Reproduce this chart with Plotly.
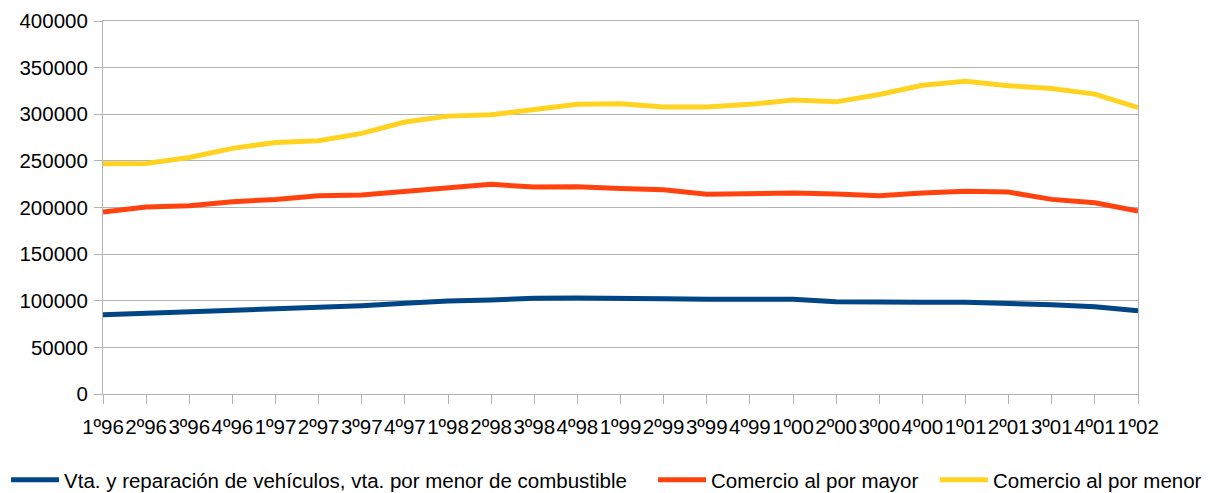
import plotly.graph_objects as go

quarters = ["1º96", "2º96", "3º96", "4º96", "1º97", "2º97", "3º97", "4º97",
            "1º98", "2º98", "3º98", "4º98", "1º99", "2º99", "3º99", "4º99",
            "1º00", "2º00", "3º00", "4º00", "1º01", "2º01", "3º01", "4º01", "1º02"]

vehiculos = [85000, 86500, 88200, 89700, 91500, 92900, 94700, 97200, 99700, 100800,
             102600, 102900, 102900, 102200, 101500, 101500, 101500, 99000, 98300, 98300,
             98300, 97200, 95700, 93600, 89300]

mayor = [195100, 200500, 201900, 206200, 208700, 212600, 213300, 217300, 220800, 224800,
         221900, 222300, 220500, 219000, 214100, 214800, 215500, 214400, 212600, 215500,
         217300, 216500, 208700, 205100, 196200]

menor = [247000, 247300, 253700, 263400, 269800, 271500, 279500, 291600, 298000, 299400,
         305200, 310600, 311200, 307700, 307700, 310600, 315200, 313300, 321200, 331000,
         335500, 330600, 327700, 321600, 307000]

series_names = ["Vta. y reparación de vehículos, vta. por menor de combustible",
                "Comercio al por mayor", "Comercio al por menor"]
colors = ["#004586", "#ff420e", "#ffd320"]

y_ticks = [0, 50000, 100000, 150000, 200000, 250000, 300000, 350000, 400000]

legend_ids = ["legend", "legend2", "legend3"]
legend_x = [-0.0937, 0.5314, 0.8038]

fig = go.Figure()
for name, vals, col, lid in zip(series_names, [vehiculos, mayor, menor], colors, legend_ids):
    fig.add_trace(go.Scatter(x=list(range(len(quarters))), y=vals, mode="lines", name=name,
                             line=dict(color=col, width=5), legend=lid))

legend_common = dict(orientation="h", xanchor="left", y=-0.2306, yanchor="middle",
                     font=dict(size=20.5), itemwidth=48, bgcolor="rgba(0,0,0,0)")

fig.update_layout(
    width=1202, height=485,
    margin=dict(l=95, r=72, t=13, b=99, autoexpand=False),
    paper_bgcolor="white", plot_bgcolor="white",
    font=dict(family="Liberation Sans, Arial, sans-serif", size=20.5, color="#000000"),
    showlegend=True,
    legend=dict(x=legend_x[0], **legend_common),
    legend2=dict(x=legend_x[1], **legend_common),
    legend3=dict(x=legend_x[2], **legend_common),
)
fig.update_xaxes(
    tickmode="array", tickvals=list(range(len(quarters))), ticktext=quarters,
    range=[0, len(quarters) - 1], tickangle=0, automargin=False,
    showgrid=False, showline=True, linecolor="#b3b3b3", linewidth=1, mirror=True,
    ticks="outside", ticklen=9, tickcolor="#b3b3b3", zeroline=False,
    ticklabelstandoff=5,
)
fig.update_yaxes(
    range=[0, 400000], tickmode="array", tickvals=y_ticks, ticktext=[str(v) for v in y_ticks],
    showgrid=True, gridcolor="#b3b3b3", gridwidth=1, automargin=False,
    showline=True, linecolor="#b3b3b3", linewidth=1, mirror=True,
    ticks="outside", ticklen=8, tickcolor="#b3b3b3", zeroline=False,
    ticklabelstandoff=2,
)

fig.write_html("out.html")
